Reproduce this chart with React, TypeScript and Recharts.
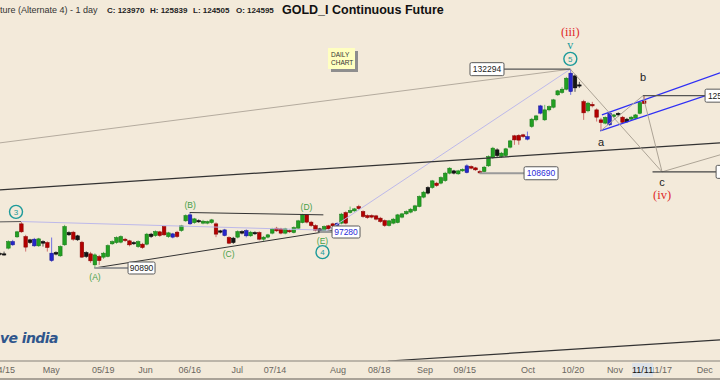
import React from 'react';
import { ComposedChart, Bar, XAxis, YAxis, ReferenceLine, ReferenceDot } from 'recharts';

// ---------- candle data (one entry per trading day) ----------
const kinds = (
  'kkgbgrrkbg' + 'krbkggkrkr' + 'krgrgggggr' + 'rkgrgkgrrg' + 'brggbgkggg' +
  'rkbrkgkbgk' + 'rgggrrgrgg' + 'grrrkgrrbg' + 'rggrrrrrrr' + 'gggggggggk' +
  'grgggkggbr' + 'rrgggkgggr' + 'rrbggbgggg' + 'ggbkkrgrrr' + 'gbgkrkgggr'
).split('');

const opens = [
  93440, 93350, 94360, 95540, 96390, 98790, 96450, 95850, 95970, 94770,
  95540, 95360, 93470, 93580, 93000, 94950, 97180, 97250, 96580, 95430,
  93580, 93350, 91430, 92880, 92770, 92880, 95130, 95360, 95430, 95970,
  95670, 95360, 94640, 95070, 95070, 96890, 96630, 97310, 98290, 96450,
  96940, 97250, 97550, 99350, 100480, 99030, 99400, 98920, 98920, 99030,
  98790, 97490, 97670, 96270, 96160, 96340, 97360, 97550, 96580, 97180,
  97180, 95970, 96340, 97070, 97990, 97860, 97070, 97550, 97180, 97990,
  99030, 100480, 99110, 98470, 97860, 97490, 98420, 98790, 98880, 98920,
  100920, 100920, 101240, 102070, 101110, 100350, 100350, 100290, 99860, 99400,
  98470, 98920, 99030, 100050, 100670, 101000, 101300, 102070, 103900, 105800,
  105800, 106680, 106680, 107200, 108710, 109180, 108570, 109180, 110220, 110080,
  109800, 109040, 109040, 110220, 111960, 113600, 112170, 112380, 114180, 116650,
  116750, 116870, 116490, 118710, 120220, 121750, 122510, 122510, 123130, 126030,
  126580, 127390, 131300, 130630, 128430, 124450, 122280, 123790, 122510, 120220,
  119480, 121750, 120960, 121710, 120830, 120380, 120380, 120600, 121710, 124595,
];
const highs = [
  93700, 93750, 95760, 95850, 97490, 99220, 96760, 96030, 96210, 96210,
  95760, 95580, 96270, 93790, 94860, 98600, 97400, 97490, 96760, 95670,
  93790, 93700, 93440, 93170, 93700, 95040, 95760, 96490, 96670, 96210,
  95850, 95580, 95760, 95310, 97120, 97120, 97580, 97490, 98510, 97310,
  97120, 97490, 98600, 100580, 100920, 99910, 99630, 99535, 99400, 99720,
  99070, 97670, 97860, 96490, 96390, 97580, 97580, 97770, 97490, 97400,
  97400, 96560, 96940, 98050, 98230, 98050, 98050, 97770, 98320, 99535,
  100670, 100620, 99350, 98700, 98050, 98510, 98600, 99000, 99070, 100860,
  101150, 102070, 101810, 102400, 101340, 100580, 100580, 100480, 100100, 99630,
  99535, 99910, 100670, 100860, 101340, 101810, 102400, 104250, 105140, 106040,
  107340, 106940, 108060, 108980, 109950, 109390, 109390, 109700, 110540, 110320,
  110000, 109390, 110220, 112420, 114250, 113920, 113170, 114030, 115760, 116870,
  117000, 117090, 117590, 120670, 121350, 123670, 123670, 123550, 125080, 127220,
  127870, 130380, 132294, 131000, 129160, 124850, 124380, 124380, 122850, 120670,
  121010, 122050, 121570, 121940, 121120, 120670, 121120, 121570, 124490, 125839,
];
const lows = [
  93000, 93050, 94140, 94770, 96210, 97120, 93750, 95130, 94590, 94590,
  94640, 93750, 91950, 93090, 92820, 94770, 96580, 95670, 95670, 92650,
  92650, 91780, 90890, 91430, 92470, 92730, 94950, 95130, 95220, 95490,
  94680, 94950, 94410, 94230, 94860, 96210, 96390, 96390, 96580, 96210,
  96120, 96210, 97310, 99160, 98600, 98790, 98980, 98700, 98700, 98800,
  96340, 97030, 96490, 95070, 95130, 96120, 96850, 96300, 96390, 96760,
  95760, 95670, 96120, 96850, 97310, 96850, 96850, 97120, 97030, 97860,
  98880, 98880, 98230, 97400, 97280, 97310, 97670, 98230, 98320, 98700,
  98700, 100730, 101050, 101430, 99910, 99720, 99820, 99440, 98980, 98230,
  98290, 98700, 98880, 99820, 100480, 100770, 101050, 101910, 103660, 104450,
  105540, 105940, 106440, 106940, 108470, 108470, 108370, 108980, 108670, 109490,
  109180, 108690, 108880, 110010, 111680, 112100, 111890, 112100, 113920, 114680,
  114700, 116200, 115660, 118420, 119880, 121480, 119990, 122170, 122850, 125800,
  126270, 127100, 126030, 126750, 127700, 120220, 121940, 123080, 119840, 117750,
  119210, 118870, 120670, 121010, 119430, 119550, 120110, 120330, 121480, 123900,
];
const closes = [
  93260, 93250, 95540, 94950, 97310, 97310, 94540, 95360, 94770, 96030,
  95250, 94470, 92170, 93300, 94640, 98290, 96760, 95970, 95850, 92770,
  92880, 92120, 93170, 92170, 93470, 94820, 95540, 96270, 96450, 95720,
  94950, 95130, 95540, 94470, 96890, 96450, 97360, 96630, 96760, 97120,
  96340, 96450, 98420, 100350, 98790, 99720, 99160, 99290, 99220, 99535,
  96890, 97250, 96630, 95250, 95360, 97360, 97070, 96580, 97250, 96940,
  95970, 96340, 96760, 97860, 97490, 97070, 97860, 97310, 98100, 99350,
  100480, 99110, 98470, 97620, 97400, 98290, 97860, 98420, 98510, 100620,
  98920, 101300, 101620, 101680, 100160, 99970, 100050, 99670, 99220, 98470,
  99350, 99670, 100480, 100670, 101110, 101560, 102200, 104020, 104880, 104690,
  107140, 106200, 107810, 108710, 109740, 108710, 109180, 109490, 108840, 109740,
  109390, 108760, 109950, 112170, 113970, 112380, 112900, 113820, 115540, 115760,
  115700, 116490, 115920, 120380, 121120, 123430, 120220, 123270, 124845, 126990,
  127390, 130060, 126820, 127700, 128190, 121820, 124075, 123430, 120830, 119610,
  120780, 119100, 121350, 121350, 119660, 119770, 120830, 121345, 124215, 123970,
];

// ---------- axis ticks ----------
const tickIdx = [1, 12, 24, 33.8, 44, 55, 63.7, 78.3, 87.8, 98.4, 107.6, 122.2, 132.6, 142.3, 153, 163.1, 148.7];
const tickLabels = ['04/15', 'May', '05/19', 'Jun', '06/16', 'Jul', '07/14', 'Aug', '08/18', 'Sep', '09/15', 'Oct', '10/20', 'Nov', '11/17', 'Dec', '11/11'];

// ---------- annotations (day index, price) ----------
const trendLines = [
  { a: [0.139, 115110], b: [132, 132294], stroke: '#b4ab9e', w: 1 },
  { a: [0.139, 99160], b: [5, 99220], stroke: '#555555', w: 1 },
  { a: [5, 99220], b: [76, 97600], stroke: '#bdb9ea', w: 1 },
  { a: [76, 97600], b: [132, 132294], stroke: '#bdb9ea', w: 1 },
  { a: [0.139, 105336], b: [166.6, 115110], stroke: '#333333', w: 1.2 },
  { a: [89.85, 76250], b: [166.6, 79340], stroke: '#333333', w: 1.2 },
  { a: [22, 90890], b: [77, 97545], stroke: '#333333', w: 1 },
  { a: [44, 100920], b: [74.9, 100483], stroke: '#333333', w: 1 },
  { a: [139.3, 121345], b: [166.6, 131378], stroke: '#2f2ff5', w: 1.2 },
  { a: [138.9, 117749], b: [166.6, 126986], stroke: '#2f2ff5', w: 1.2 },
  { a: [132, 132294], b: [153.2, 108980], stroke: '#ada496', w: 1 },
  { a: [148.8, 125839], b: [153.2, 108980], stroke: '#ada496', w: 1 },
  { a: [139, 117749], b: [148.8, 125839], stroke: '#ada496', w: 1 },
  { a: [153.2, 108980], b: [166.6, 112530], stroke: '#ada496', w: 1 },
];

const connectors = [
  { a: [22, 90890], b: [29.74, 90890], stroke: '#9a9a9a', w: 2 },
  { a: [74, 97280], b: [76.9, 97280], stroke: '#9a9a9a', w: 2 },
  { a: [111, 108690], b: [121.3, 108690], stroke: '#9a9a9a', w: 2 },
  { a: [116.4, 132294], b: [132, 132294], stroke: '#555555', w: 1.2 },
  { a: [148.8, 125839], b: [163.15, 125839], stroke: '#555555', w: 1.2 },
  { a: [151, 108980], b: [165.7, 108980], stroke: '#444444', w: 1.2 },
];

const priceBoxes = [
  { i: 29.74, p: 90890, text: '90890', color: '#222222', w: 27 },
  { i: 76.9, p: 97280, text: '97280', color: '#2b2bd8', w: 28 },
  { i: 121.3, p: 108690, text: '108690', color: '#2b2bd8', w: 34 },
  { i: 108.8, p: 132294, text: '132294', color: '#222222', w: 34 },
  { i: 163.15, p: 125839, text: '125839', color: '#222222', w: 34 },
  { i: 165.7, p: 108980, text: '', color: '#222222', w: 34 },
];

const waveLabels = [
  { i: 3.84, p: 101054, text: '3', kind: 'circle' },
  { i: 22.1, p: 89422, text: '(A)', kind: 'minor' },
  { i: 44.1, p: 102398, text: '(B)', kind: 'minor' },
  { i: 53.0, p: 93350, text: '(C)', kind: 'minor' },
  { i: 71.0, p: 101947, text: '(D)', kind: 'minor' },
  { i: 74.7, p: 95667, text: '(E)', kind: 'minor' },
  { i: 74.7, p: 93650, text: '4', kind: 'circle' },
  { i: 132, p: 134891, text: '5', kind: 'circle' },
  { i: 132, p: 138242, text: 'v', kind: 'teal' },
  { i: 132, p: 141944, text: '(iii)', kind: 'red' },
  { i: 139.1, p: 115330, text: 'a', kind: 'plain' },
  { i: 148.8, p: 130378, text: 'b', kind: 'plain' },
  { i: 153.2, p: 106940, text: 'c', kind: 'plain' },
  { i: 153.2, p: 104350, text: '(iv)', kind: 'red' },
];

const rows = opens.map((o, i) => ({
  i,
  o,
  h: highs[i],
  l: lows[i],
  c: closes[i],
  k: kinds[i],
  range: [lows[i], highs[i]],
}));

const COLORS: Record<string, { fill: string; stroke: string; wick: string }> = {
  g: { fill: '#22a022', stroke: '#127012', wick: '#6cbf6c' },
  r: { fill: '#b40000', stroke: '#7d0000', wick: '#d07070' },
  b: { fill: '#2626cc', stroke: '#14148a', wick: '#7070e0' },
  k: { fill: '#151515', stroke: '#000000', wick: '#555555' },
};

const SANS = '"Liberation Sans", Arial, sans-serif';

const Candle = (props: any) => {
  const { x, y, width, height, payload } = props;
  if (payload == null || !isFinite(y) || !isFinite(height)) return null;
  const top = Math.min(y, y + height);
  const h = Math.abs(height);
  const lh = Math.log(payload.h);
  const ll = Math.log(payload.l);
  const span = lh - ll || 1;
  const py = (p: number) => top + (h * (lh - Math.log(p))) / span;
  const cx = x + width / 2;
  const bTop = py(Math.max(payload.o, payload.c));
  const bBot = py(Math.min(payload.o, payload.c));
  const col = COLORS[payload.k] || COLORS.k;
  return (
    <g>
      <line x1={cx} x2={cx} y1={top} y2={top + h} stroke={col.wick} strokeWidth={1} />
      <rect
        x={cx - 1.8}
        y={bTop}
        width={3.6}
        height={Math.max(1.2, bBot - bTop)}
        fill={col.fill}
        stroke={col.stroke}
        strokeWidth={0.5}
      />
    </g>
  );
};

const AxisTick = (props: any) => {
  const { x, y, payload } = props;
  const k = tickIdx.indexOf(payload.value);
  const label = k >= 0 ? tickLabels[k] : '';
  const hl = label === '11/11';
  return (
    <g>
      {hl && <rect x={x - 10.5} y={y - 6} width={21} height={14} fill="#dde2e8" />}
      <text
        x={x}
        y={y + 4}
        textAnchor="middle"
        fontSize={9}
        fontFamily={SANS}
        fill={hl ? '#111111' : '#6a6660'}
      >
        {label}
      </text>
    </g>
  );
};

const makeBox = (b: (typeof priceBoxes)[number]) => (props: any) => {
  const { cx, cy } = props;
  if (!isFinite(cx) || !isFinite(cy)) return null;
  const h = b.w > 30 ? 13 : 12;
  return (
    <g>
      <rect x={cx} y={cy - h / 2} width={b.w} height={h} rx={1.5} fill="#ffffff" stroke="#5a5a5a" strokeWidth={1} />
      <text x={cx + b.w / 2} y={cy + 3} textAnchor="middle" fontSize={8.5} fontFamily={SANS} fill={b.color}>
        {b.text}
      </text>
    </g>
  );
};

const makeLabel = (l: (typeof waveLabels)[number]) => (props: any) => {
  const { cx, cy } = props;
  if (!isFinite(cx) || !isFinite(cy)) return null;
  if (l.kind === 'circle') {
    return (
      <g>
        <circle cx={cx} cy={cy} r={6.5} fill="none" stroke="#1c9a9a" strokeWidth={1.4} />
        <text x={cx} y={cy + 3} textAnchor="middle" fontSize={8} fontFamily={SANS} fill="#1c9a9a">
          {l.text}
        </text>
      </g>
    );
  }
  if (l.kind === 'minor') {
    return (
      <text x={cx} y={cy + 3} textAnchor="middle" fontSize={8.5} fontFamily={SANS} fill="#46a046">
        {l.text}
      </text>
    );
  }
  if (l.kind === 'teal') {
    return (
      <text x={cx} y={cy + 3} textAnchor="middle" fontSize={12} fontFamily='"Liberation Serif", serif' fill="#1c9a9a">
        {l.text}
      </text>
    );
  }
  if (l.kind === 'red') {
    return (
      <text x={cx} y={cy + 4} textAnchor="middle" fontSize={12.5} fontFamily='"Liberation Serif", serif' fill="#e02a2a">
        {l.text}
      </text>
    );
  }
  return (
    <text x={cx} y={cy + 4} textAnchor="middle" fontSize={11} fontFamily={SANS} fill="#222222">
      {l.text}
    </text>
  );
};

export default function App() {
  return (
    <div style={{ position: 'relative', width: 720, height: 380, background: '#f3eada', overflow: 'hidden' }}>
      <style>{'body{margin:0}'}</style>
      <ComposedChart width={720} height={380} data={rows} margin={{ top: 0, right: 0, bottom: 0, left: 0 }}>
        <XAxis
          type="number"
          dataKey="i"
          domain={[0.139, 166.6]}
          allowDataOverflow
          ticks={tickIdx}
          interval={0}
          tick={AxisTick}
          tickLine={false}
          axisLine={{ stroke: '#aaa398', strokeWidth: 1.5 }}
          height={19}
        />
        <YAxis type="number" scale="log" domain={[76252, 150750]} allowDataOverflow hide />
        {trendLines.map((t, k) => (
          <ReferenceLine
            key={'t' + k}
            segment={[{ x: t.a[0], y: t.a[1] }, { x: t.b[0], y: t.b[1] }]}
            stroke={t.stroke}
            strokeWidth={t.w}
            ifOverflow="hidden"
          />
        ))}
        {connectors.map((t, k) => (
          <ReferenceLine
            key={'c' + k}
            segment={[{ x: t.a[0], y: t.a[1] }, { x: t.b[0], y: t.b[1] }]}
            stroke={t.stroke}
            strokeWidth={t.w}
            ifOverflow="visible"
          />
        ))}
        <Bar dataKey="range" barSize={3} shape={Candle} isAnimationActive={false} />
        {priceBoxes.map((b, k) => (
          <ReferenceDot key={'b' + k} x={b.i} y={b.p} r={0} ifOverflow="visible" shape={makeBox(b)} />
        ))}
        {waveLabels.map((l, k) => (
          <ReferenceDot key={'l' + k} x={l.i} y={l.p} r={0} ifOverflow="visible" shape={makeLabel(l)} />
        ))}
      </ComposedChart>

      {/* header */}
      <div style={{ position: 'absolute', left: 0, top: 5, fontFamily: SANS, fontSize: 9, color: '#333', whiteSpace: 'nowrap' }}>
        ture (Alternate 4) - 1 day
      </div>
      {[
        { x: 107, t: 'C: 123970' },
        { x: 150, t: 'H: 125839' },
        { x: 193, t: 'L: 124505' },
        { x: 236, t: 'O: 124595' },
      ].map((h) => (
        <div
          key={h.t}
          style={{ position: 'absolute', left: h.x, top: 6, fontFamily: SANS, fontSize: 8, fontWeight: 700, color: '#222', whiteSpace: 'nowrap' }}
        >
          {h.t}
        </div>
      ))}
      <div style={{ position: 'absolute', left: 282, top: 3, fontFamily: SANS, fontSize: 12.5, fontWeight: 700, color: '#111', whiteSpace: 'nowrap' }}>
        GOLD_I Continuous Future
      </div>

      {/* sticky note */}
      <div
        style={{
          position: 'absolute',
          left: 328,
          top: 48,
          width: 27,
          height: 21,
          background: '#ffffc0',
          boxShadow: '3px 3px 0 #8e8e8e',
          fontFamily: SANS,
          fontSize: 6.5,
          lineHeight: '8px',
          color: '#333',
          padding: '3px 0 0 3px',
          boxSizing: 'border-box',
        }}
      >
        DAILY
        <br />
        CHART
      </div>

      {/* logo */}
      <div
        style={{
          position: 'absolute',
          left: 0,
          top: 330,
          fontFamily: '"DejaVu Sans", sans-serif',
          fontSize: 14,
          fontWeight: 700,
          fontStyle: 'italic',
          letterSpacing: -0.6,
          color: '#2f568c',
          whiteSpace: 'nowrap',
        }}
      >
        ve india
      </div>

      {/* bottom frame line */}
      <div style={{ position: 'absolute', left: 0, top: 378, width: 720, height: 1.5, background: '#aaa398' }} />
    </div>
  );
}
